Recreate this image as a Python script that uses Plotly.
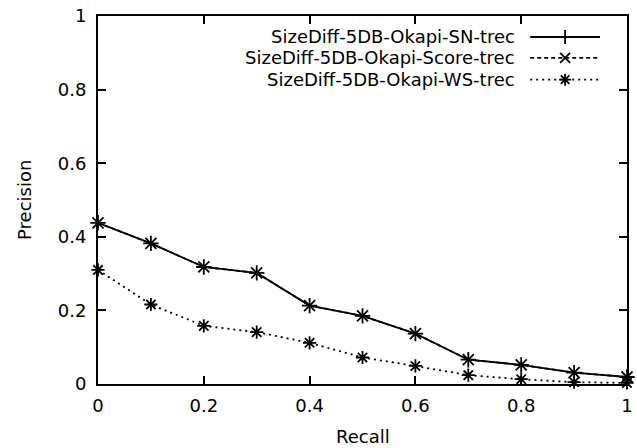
import plotly.graph_objects as go

recall = [0, 0.1, 0.2, 0.3, 0.4, 0.5, 0.6, 0.7, 0.8, 0.9, 1.0]
sn = [0.438, 0.382, 0.318, 0.302, 0.213, 0.185, 0.137, 0.066, 0.052, 0.031, 0.019]
score = [0.438, 0.382, 0.318, 0.302, 0.213, 0.185, 0.137, 0.066, 0.052, 0.031, 0.019]
ws = [0.310, 0.216, 0.158, 0.141, 0.112, 0.072, 0.049, 0.024, 0.013, 0.005, 0.003]
names = ["SizeDiff-5DB-Okapi-SN-trec", "SizeDiff-5DB-Okapi-Score-trec", "SizeDiff-5DB-Okapi-WS-trec"]
xticks = [0, 0.2, 0.4, 0.6, 0.8, 1]
xticklabels = ["0", "0.2", "0.4", "0.6", "0.8", "1"]
yticks = [0, 0.2, 0.4, 0.6, 0.8, 1]
yticklabels = ["0", "0.2", "0.4", "0.6", "0.8", "1"]

styles = [
    dict(dash="solid", symbol="cross-thin-open"),
    dict(dash="4px,3px", symbol="x-thin-open"),
    dict(dash="2px,4px", symbol="asterisk-open"),
]
series = [sn, score, ws]

FONT = "DejaVu Sans, Arial, sans-serif"
FS = 18
fig = go.Figure()
for name, ys, st in zip(names, series, styles):
    fig.add_trace(go.Scatter(
        x=recall, y=ys, mode="lines+markers", name=name, showlegend=False,
        line=dict(color="black", width=1.8, dash=st["dash"]),
        marker=dict(symbol=st["symbol"], size=11, color="black",
                    line=dict(color="black", width=1.8)),
        cliponaxis=False,
    ))

# manual legend (text right-aligned, sample to the right) on overlay axes
leg_y = [0.943, 0.886, 0.827]
for name, st, ly in zip(names, styles, leg_y):
    fig.add_trace(go.Scatter(
        x=[0.817, 0.883, 0.949], y=[ly, ly, ly], xaxis="x2", yaxis="y2",
        mode="lines", showlegend=False, hoverinfo="skip",
        line=dict(color="black", width=1.8, dash=st["dash"]),
    ))
    fig.add_trace(go.Scatter(
        x=[0.883], y=[ly], xaxis="x2", yaxis="y2",
        mode="markers", showlegend=False, hoverinfo="skip",
        marker=dict(symbol=st["symbol"], size=10, color="black",
                    line=dict(color="black", width=1.8)),
    ))
    fig.add_annotation(x=0.792, y=ly, xref="x2", yref="y2", text=name,
                       showarrow=False, xanchor="right", yanchor="middle",
                       font=dict(family=FONT, size=FS, color="black"))

# axis titles as annotations for precise placement
fig.add_annotation(x=-0.14, y=0.5, xref="paper", yref="paper", text="Precision",
                   showarrow=False, textangle=-90, xanchor="center", yanchor="middle",
                   font=dict(family=FONT, size=FS, color="black"))
fig.add_annotation(x=0.5, y=-0.144, xref="paper", yref="paper", text="Recall",
                   showarrow=False, xanchor="center", yanchor="middle",
                   font=dict(family=FONT, size=FS, color="black"))

axis_common = dict(
    showgrid=False, zeroline=False, showline=True, linecolor="black",
    linewidth=2, mirror="ticks", ticks="inside", ticklen=8, tickwidth=2,
    tickcolor="black", tickfont=dict(family=FONT, size=FS, color="black"),
    automargin=False,
)
fig.update_layout(
    width=637, height=448,
    margin=dict(l=98, r=10, t=16, b=64, autoexpand=False),
    paper_bgcolor="white", plot_bgcolor="white",
    xaxis=dict(range=[0, 1], tickvals=xticks, ticktext=xticklabels,
               ticklabelstandoff=4, **axis_common),
    yaxis=dict(range=[0, 1], tickvals=yticks, ticktext=yticklabels,
               ticklabelstandoff=6, **axis_common),
    xaxis2=dict(range=[0, 1], overlaying="x", visible=False),
    yaxis2=dict(range=[0, 1], overlaying="y", visible=False),
)

fig.write_html("out.html", config={"displayModeBar": False},
               post_script="document.body.style.margin='0px';document.body.style.overflow='hidden';")
